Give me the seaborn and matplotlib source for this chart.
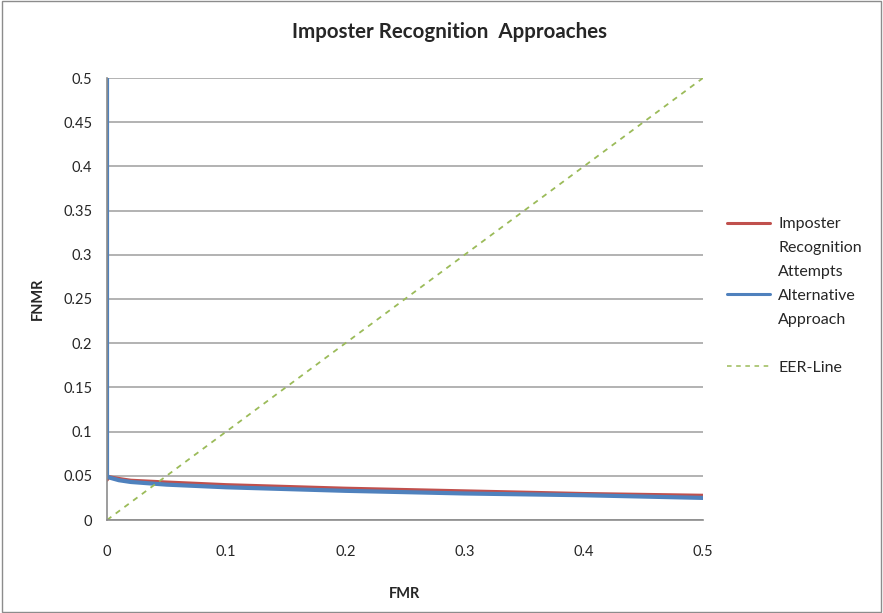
import pandas as pd
import matplotlib.pyplot as plt
import seaborn as sns
from matplotlib.patches import Rectangle

# Dados
fmr = [0, 0.002, 0.01, 0.02, 0.05, 0.1, 0.2, 0.3, 0.4, 0.5]
imposter = [0.045, 0.049, 0.047, 0.045, 0.043, 0.040, 0.036, 0.033, 0.030, 0.028]
alt_fmr = [0, 0, 0.002, 0.01, 0.02, 0.05, 0.1, 0.2, 0.3, 0.4, 0.5]
alternative = [0.5, 0.05, 0.048, 0.045, 0.043, 0.040, 0.037, 0.033, 0.030, 0.028, 0.025]
eer = [0, 0.5]

# Legenda: primeira linha + continuacao
legend_labels = [["Imposter", "Recognition", "Attempts"],
                 ["Alternative", "Approach"],
                 ["EER-Line"]]

sns.set_style("white")
plt.rcParams["font.family"] = ["Lato", "DejaVu Sans"]

fig = plt.figure(figsize=(8.83, 6.13), dpi=100)
ax = fig.add_axes([107 / 883, 93 / 613, 596 / 883, 442 / 613])

sns.lineplot(x=fmr, y=imposter, ax=ax, color="#C0504D", linewidth=2.2,
             estimator=None, sort=False, label=legend_labels[0][0])
sns.lineplot(x=alt_fmr, y=alternative, ax=ax, color="#4F81BD", linewidth=3,
             estimator=None, sort=False, label=legend_labels[1][0])
sns.lineplot(x=eer, y=eer, ax=ax, color="#9BBB59", linewidth=1.3,
             linestyle=(0, (3, 3)), estimator=None, sort=False, label=legend_labels[2][0])

ax.set_xlim(0, 0.5)
ax.set_ylim(0, 0.5)
ax.set_xticks([0, 0.1, 0.2, 0.3, 0.4, 0.5])
ax.set_xticklabels(["0", "0.1", "0.2", "0.3", "0.4", "0.5"])
yt = [0, 0.05, 0.1, 0.15, 0.2, 0.25, 0.3, 0.35, 0.4, 0.45, 0.5]
ax.set_yticks(yt)
ax.set_yticklabels([f"{v:g}" for v in yt])
ax.tick_params(axis="x", length=0, pad=18, labelsize=10.5)
ax.tick_params(axis="y", length=0, pad=10.5, labelsize=10.5)
ax.grid(axis="y", color="#a6a6a6", linewidth=1.2)
ax.grid(axis="x", visible=False)
for s in ["top", "right"]:
    ax.spines[s].set_visible(False)
for s in ["left", "bottom"]:
    ax.spines[s].set_color("#8c8c8c")
    ax.spines[s].set_linewidth(1.2)

ax.set_xlabel("FMR", fontsize=10.5, fontweight="bold", labelpad=20)
ax.set_ylabel("FNMR", fontsize=10.5, fontweight="bold", labelpad=13)
fig.text(450 / 883, 1 - 32 / 613, "Imposter Recognition  Approaches",
         ha="center", va="center", fontsize=14.8, fontweight="bold")

fs = 11.5
leg = ax.legend(loc="upper left", bbox_to_anchor=(727 / 883, 1 - 217 / 613),
                bbox_transform=fig.transFigure, frameon=False, fontsize=fs,
                handlelength=2.7, handletextpad=0.5, labelspacing=3.6,
                borderpad=0, borderaxespad=0)
leg_lines = leg.get_lines()
leg_lines[0].set_linewidth(2.2)
leg_lines[1].set_linewidth(2.2)
leg_lines[2].set_linewidth(1.1)

# linhas de continuacao da legenda
fig.canvas.draw()
r = fig.canvas.get_renderer()
for txt, lines in zip(leg.get_texts(), legend_labels):
    bb = txt.get_window_extent(r)
    for k, line in enumerate(lines[1:], start=1):
        fig.text(bb.x0 / fig.bbox.width, (bb.y0 - k * 24) / fig.bbox.height, line,
                 ha="left", va="bottom", fontsize=fs)

fig.patches.append(Rectangle((0.002, 0.002), 0.996, 0.996, transform=fig.transFigure,
                             fill=False, edgecolor="#8c8c8c", linewidth=1))

fig.savefig("out.png", dpi=100)
